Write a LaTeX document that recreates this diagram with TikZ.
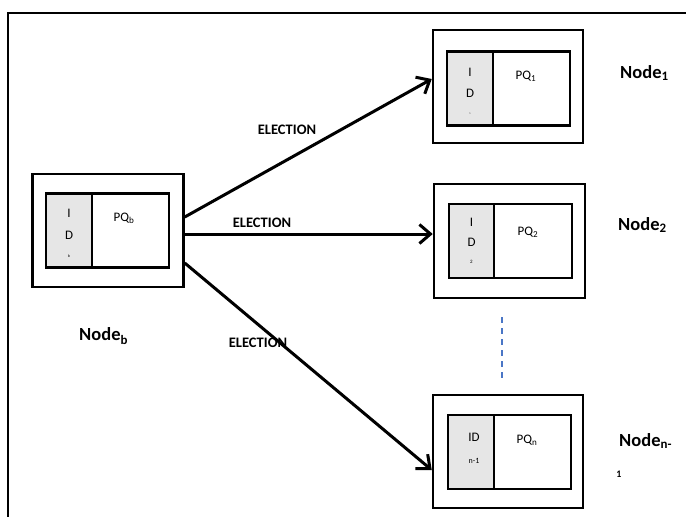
\documentclass[tikz,border=0pt]{standalone}
\usepackage{fontspec}
\setmainfont{Carlito}
\usetikzlibrary{arrows.meta}
\definecolor{idgray}{HTML}{E6E6E6}
\definecolor{dashblue}{HTML}{4A76C6}
\tikzset{
  outerbox/.style={draw, line width=2.5pt, minimum width=150pt, minimum height=113pt, inner sep=0pt},
  idbox/.style={draw, line width=2.5pt, fill=idgray, minimum width=46pt, minimum height=74pt, inner sep=0pt},
  pqbox/.style={draw, line width=2.5pt, minimum width=77pt, minimum height=74pt, inner sep=0pt},
  pqtext/.style={font=\fontsize{13}{15}\selectfont, inner sep=0pt},
  idtext/.style={font=\fontsize{13}{15}\selectfont, inner sep=0pt},
  tinytext/.style={font=\fontsize{4}{5}\selectfont, inner sep=0pt},
  eltext/.style={font=\bfseries\fontsize{14.5}{16}\selectfont, inner sep=0pt},
  nodelabel/.style={font=\bfseries\fontsize{18.5}{20}\selectfont, inner sep=0pt, anchor=west},
  msg/.style={line width=3pt, -{Straight Barb[length=11pt,width=19pt,line width=3pt]}},
}
\begin{document}
\begin{tikzpicture}[x=1pt,y=-1pt]
\useasboundingbox (0,0) rectangle (686,517);
% outer frame (only top and left visible)
\draw[line width=1.5pt] (8,530) -- (8,13) -- (700,13);

% Node b
\node[outerbox, minimum width=151pt] (nb) at (108,230.5) {};
\node[idbox] (nbid) at (69,230.5) {};
\node[pqbox] (nbpq) at (130.5,230.5) {};
\node[idtext] (nbI) at (69,213) {I};
\node[idtext] (nbD) at (69,235) {D};
\node[tinytext] (nbs) at (69,256) {b};
\node[pqtext] (nbpqt) at (124,218) {PQ\textsubscript{b}};
\node[nodelabel] (nblab) at (79,336) {Node\textsubscript{b}};

% Node 1
\node[outerbox] (n1) at (508,86.5) {};
\node[idbox] (n1id) at (470,88.5) {};
\node[pqbox] (n1pq) at (531.5,88.5) {};
\node[idtext] (n1I) at (470,72) {I};
\node[idtext] (n1D) at (470,93) {D};
\node[tinytext, font=\fontsize{2.5}{3}\selectfont] (n1s) at (470,114) {1};
\node[pqtext] (n1pqt) at (526,76) {PQ\textsubscript{1}};
\node[nodelabel] (n1lab) at (620,73) {Node\textsubscript{1}};

% Node 2
\node[outerbox, minimum width=151pt, minimum height=114pt] (n2) at (509.5,241) {};
\node[idbox, minimum width=45pt] (n2id) at (471.5,241) {};
\node[pqbox, minimum width=78pt] (n2pq) at (533,241) {};
\node[idtext] (n2I) at (471.5,222) {I};
\node[idtext] (n2D) at (471.5,242) {D};
\node[tinytext, font=\fontsize{5}{6}\selectfont] (n2s) at (471.5,262) {2};
\node[pqtext] (n2pqt) at (528,232) {PQ\textsubscript{2}};
\node[nodelabel] (n2lab) at (618,225) {Node\textsubscript{2}};

% Node n
\node[outerbox] (nn) at (508,451.5) {};
\node[idbox] (nnid) at (471,452) {};
\node[pqbox] (nnpq) at (532.5,452) {};
\node[idtext] (nnI) at (474,437) {ID};
\node[tinytext, font=\fontsize{8}{9}\selectfont] (nns) at (474,461) {n-1};
\node[pqtext] (nnpqt) at (527,440) {PQ\textsubscript{n}};
\node[nodelabel] (nnlab) at (619,441) {Node\textsubscript{n-}};
\node[font=\bfseries\fontsize{10}{11}\selectfont, inner sep=0pt] (nnlab2) at (619,474) {1};

% connectors
\coordinate (s1) at (182,217);
\coordinate (s2) at (182,234);
\coordinate (s3) at (182,263);
\coordinate (e1) at (432,79);
\coordinate (e2) at (433,234);
\coordinate (e3) at (431,470);
\draw[msg] (nb.east |- s1) -- (n1.west |- e1);
\draw[msg] (nb.east |- s2) -- (n2.west |- e2);
\draw[msg] (nb.east |- s3) -- (nn.west |- e3);

\node[eltext] (el1) at (287,129.5) {ELECTION};
\node[eltext] (el2) at (262,223) {ELECTION};
\node[eltext] (el3) at (258,343) {ELECTION};

% dots between node 2 and node n
\coordinate (d1) at (502,317);
\coordinate (d2) at (502,379);
\draw[dashblue, line width=2.5pt, dash pattern=on 6pt off 5pt] (d1) -- (d2);
\end{tikzpicture}
\end{document}
